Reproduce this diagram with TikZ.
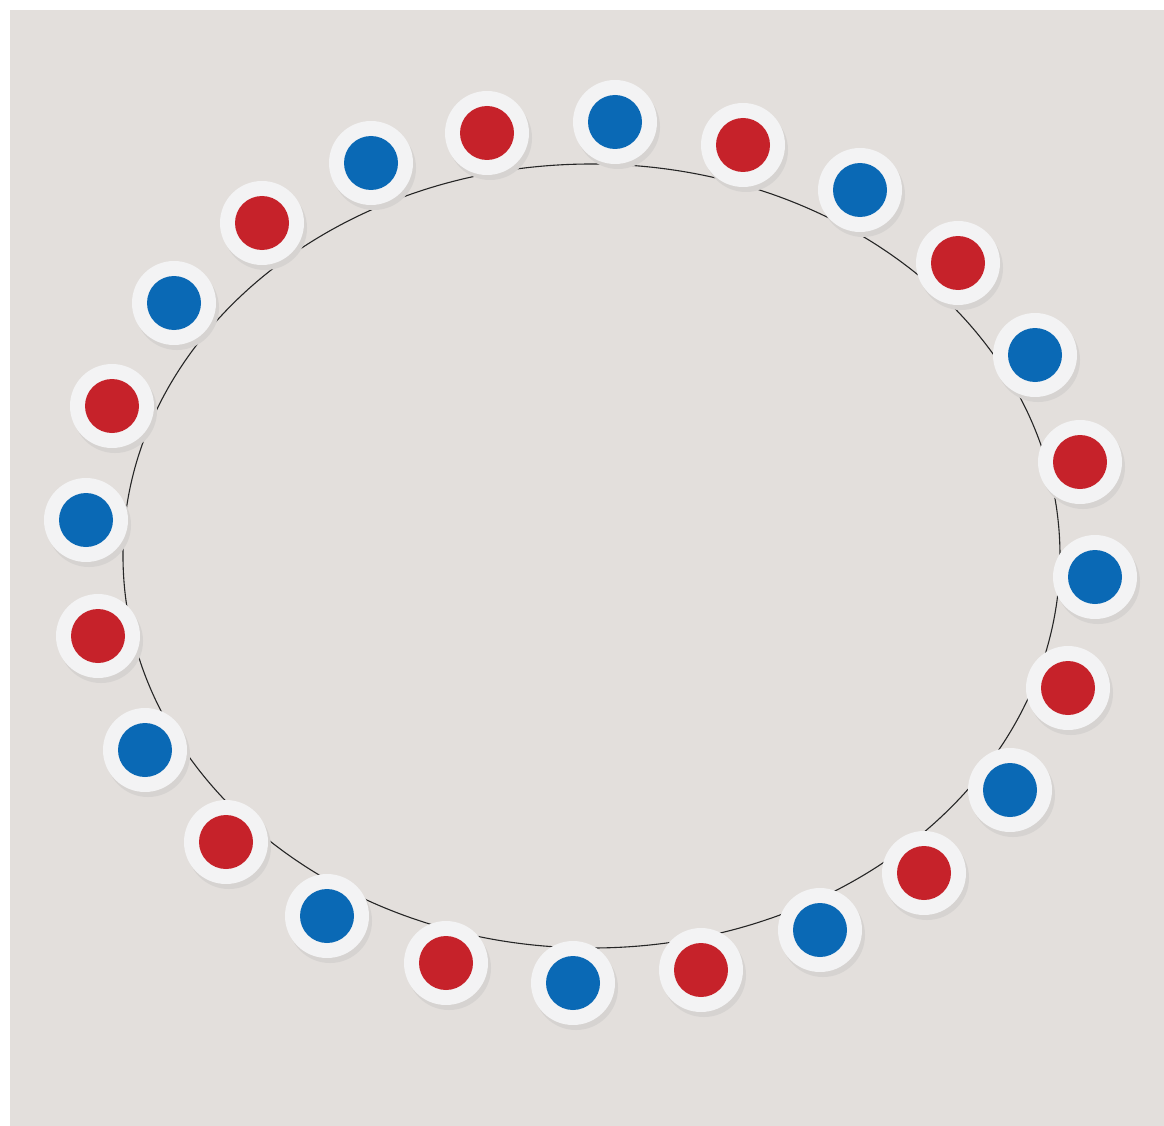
\documentclass[tikz,border=0pt]{standalone}
\definecolor{bgcol}{HTML}{E3DFDC}
\definecolor{halocol}{HTML}{F3F3F4}
\definecolor{shadowcol}{HTML}{D6D3D1}
\definecolor{dotblue}{HTML}{0A69B5}
\definecolor{dotred}{HTML}{C6222A}
\tikzset{
  halo/.style={circle, fill=halocol, minimum size=84pt, inner sep=0pt},
  shade/.style={circle, fill=shadowcol, minimum size=84pt, inner sep=0pt},
  bluedot/.style={circle, fill=dotblue, minimum size=54pt, inner sep=0pt},
  reddot/.style={circle, fill=dotred, minimum size=54pt, inner sep=0pt},
  ring/.style={draw=black!85, line width=1.1pt}
}
\begin{document}
\begin{tikzpicture}[x=1pt,y=-1pt]
\useasboundingbox (0,0) rectangle (1164,1126);
\fill[white] (0,0) rectangle (1164,1126);
\fill[bgcol] (10,10) rectangle (1164,1126);
\draw[ring] (591.5,556) ellipse [x radius=468.5, y radius=392];
\foreach \x/\y [count=\i] in {615/122, 743/145, 860/190, 958/263, 1035/355, 1080/462, 1095/577, 1068/688, 1010/790, 924/873, 820/930, 701/970, 573/983, 446/963, 327/916, 226/842, 145/750, 98/636, 86/520, 112/406, 174/303, 262/223, 371/163, 487/133} {
  \node[shade] (s\i) at (\x+3,\y+5) {};
}
\foreach \x/\y [count=\i] in {615/122, 743/145, 860/190, 958/263, 1035/355, 1080/462, 1095/577, 1068/688, 1010/790, 924/873, 820/930, 701/970, 573/983, 446/963, 327/916, 226/842, 145/750, 98/636, 86/520, 112/406, 174/303, 262/223, 371/163, 487/133} {
  \node[halo] (h\i) at (\x,\y) {};
  \ifodd\i
    \node[bluedot] (d\i) at (\x,\y) {};
  \else
    \node[reddot] (d\i) at (\x,\y) {};
  \fi
}
\end{tikzpicture}
\end{document}
